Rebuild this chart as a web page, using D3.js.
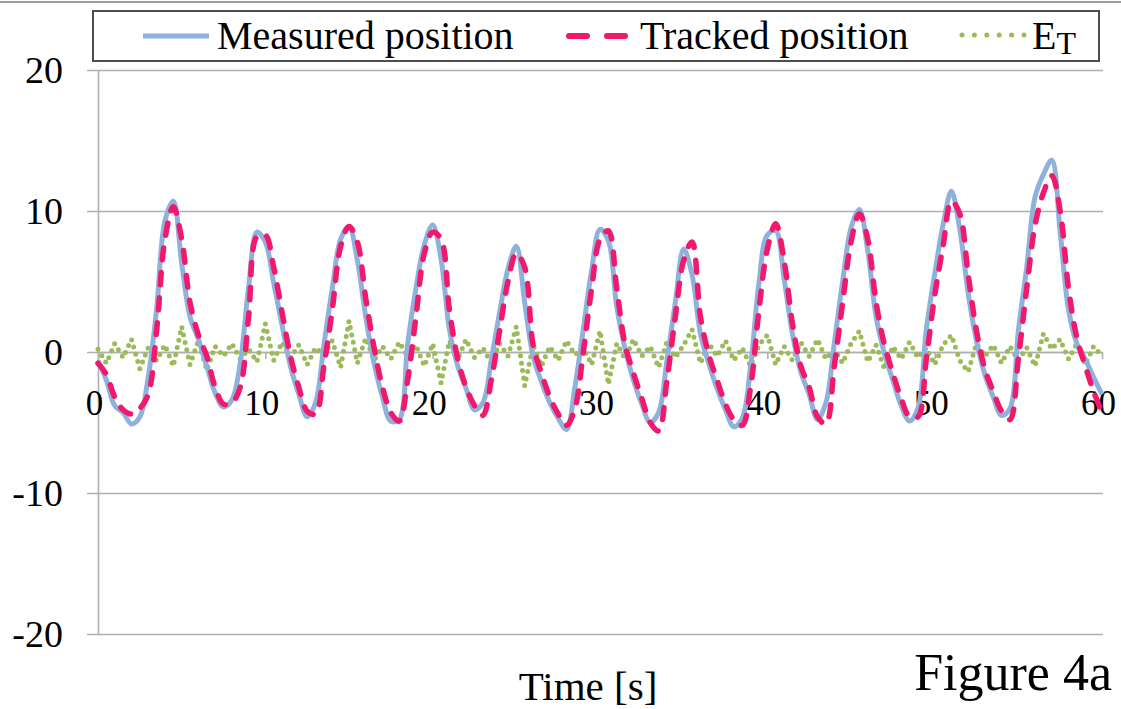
<!DOCTYPE html>
<html>
<head>
<meta charset="utf-8">
<script src="https://cdn.jsdelivr.net/npm/d3@7"></script>
<style>
  body { margin: 0; background: #fff; }
  svg { display: block; font-family: "Liberation Serif", "Times New Roman", serif; }
</style>
</head>
<body>
<div id="chart"></div>
<script>
(function () {
  const width = 1121;
  const height = 709;

  // time samples [s]
  const times = [0, 0.5, 1, 1.5, 2, 2.5, 3, 3.5, 4, 4.5, 5, 5.5, 6, 6.5, 7, 7.5, 8, 8.5, 9, 9.5,
    10, 10.5, 11, 11.5, 12, 12.5, 13, 13.5, 14, 14.5, 15, 15.5, 16, 16.5, 17, 17.5, 18, 18.5, 19, 19.5,
    20, 20.5, 21, 21.5, 22, 22.5, 23, 23.5, 24, 24.5, 25, 25.5, 26, 26.5, 27, 27.5, 28, 28.5, 29, 29.5,
    30, 30.5, 31, 31.5, 32, 32.5, 33, 33.5, 34, 34.5, 35, 35.5, 36, 36.5, 37, 37.5, 38, 38.5, 39, 39.5,
    40, 40.5, 41, 41.5, 42, 42.5, 43, 43.5, 44, 44.5, 45, 45.5, 46, 46.5, 47, 47.5, 48, 48.5, 49, 49.5,
    50, 50.5, 51, 51.5, 52, 52.5, 53, 53.5, 54, 54.5, 55, 55.5, 56, 56.5, 57, 57.5, 58, 58.5, 59, 59.5, 60];

  const measured = [-0.6, -2.0, -3.8, -4.3, -5.1, -4.6, -1.8, 3.0, 9.3, 10.7,
    6.3, 2.5, 0.9, -1.0, -2.9, -3.9, -3.4, -0.8, 4.6, 8.5,
    7.8, 4.9, 1.9, -1.0, -3.0, -4.6, -3.6, 0.5, 4.5, 8.0,
    8.9, 6.5, 2.5, -0.8, -3.2, -4.9, -4.8, 0.5, 4.5, 7.6,
    9.0, 6.6, 1.6, -1.0, -2.6, -4.1, -3.6, -0.6, 2.8, 5.9,
    7.5, 3.5, -0.3, -2.1, -3.6, -4.7, -5.5, -2.5, 1.6, 5.8,
    8.7, 7.9, 3.2, 0.2, -2.0, -3.7, -5.0, -4.3, -0.6, 3.5,
    7.3, 5.5, 1.3, -0.8, -2.6, -4.1, -5.3, -4.7, -1.0, 4.9,
    8.3, 8.6, 5.2, 1.3, -1.4, -3.0, -4.8, -3.6, 0.6, 5.0,
    8.8, 10.1, 7.2, 2.5, -0.1, -2.0, -3.8, -4.9, -4.0, 1.6,
    5.5, 9.0, 11.4, 8.7, 4.2, 0.8, -1.6, -3.2, -4.5, -4.0,
    1.5, 6.0, 11.0, 12.6, 13.6, 8.5, 3.0, 0.6, -0.5, -1.8, -3.0];

  const tracked = [-0.8, -1.6, -3.2, -4.1, -4.4, -4.0, -3.0, 1.5, 8.0, 10.3,
    8.0, 3.5, 1.2, -0.3, -2.5, -3.7, -3.6, -2.5, 2.5, 8.2,
    8.3, 6.0, 2.8, -0.3, -2.5, -4.2, -4.4, -1.0, 3.0, 7.5,
    8.9, 7.8, 3.8, 0.3, -2.5, -4.3, -4.9, -2.0, 2.5, 7.0,
    8.5, 8.0, 3.0, -0.5, -2.5, -3.8, -4.5, -2.0, 1.5, 5.0,
    7.0, 6.0, 0.5, -1.5, -3.2, -4.4, -5.2, -4.0, 0.0, 4.5,
    8.0, 8.6, 4.5, 0.5, -1.5, -3.3, -5.0, -5.6, -2.0, 2.5,
    6.5, 7.8, 2.5, -0.2, -2.0, -3.7, -4.8, -5.2, -2.5, 3.0,
    7.3, 9.1, 6.5, 2.0, -1.0, -2.5, -4.6, -5.1, -1.0, 3.5,
    7.8, 9.8, 8.0, 3.5, 0.5, -1.5, -3.3, -4.6, -4.6, -0.5,
    4.0, 7.5, 10.7, 9.8, 5.5, 1.5, -1.2, -2.8, -4.2, -4.8,
    -0.5, 4.5, 9.0, 11.3, 12.5, 10.0, 4.5, 1.0, -1.0, -2.8, -4.3];

  const errorT = [0.2, -0.8, 0.6, -0.4, 0.9, -1.2, 0.3, -0.6, 0.5, -1.0,
    1.8, -0.9, 0.8, -1.3, 0.4, -0.3, 0.6, -0.5, 0.2, -0.7,
    2.0, -0.6, 0.7, -0.4, 0.5, -0.9, 0.3, -0.2, 0.8, -1.1,
    2.2, -0.8, 1.0, -0.6, 0.4, -0.5, 0.7, -0.3, 0.5, -1.0,
    0.6, -2.2, 0.8, -0.5, 0.9, -0.4, 0.3, -0.8, 0.6, -0.3,
    1.8, -2.4, 0.5, -1.0, 0.4, -0.6, 0.8, -0.2, 0.3, -0.9,
    1.5, -2.3, 0.6, -0.5, 0.9, -0.3, 0.4, -1.1, 0.7, -0.4,
    0.5, 1.6, -0.8, 0.6, -0.3, 0.8, -0.6, 0.3, -1.0, 0.5,
    1.2, -0.9, 0.4, -0.6, 0.7, -0.3, 0.9, -0.5, 0.2, -0.8,
    0.6, 1.5, -0.7, 0.5, -1.2, 0.4, -0.5, 0.7, -0.4, 0.3,
    -0.9, 0.5, 1.2, -0.6, -1.4, 0.6, -0.3, 0.5, -0.8, 0.4,
    -0.6, 0.3, -1.0, 1.3, 0.2, 0.9, -0.5, 0.6, -0.9, 0.4, -0.3];

  const xTicks = [0, 10, 20, 30, 40, 50, 60];
  const yTicks = [-20, -10, 0, 10, 20];
  const seriesNames = ["Measured position", "Tracked position", "E"];

  const FONT = '"Liberation Serif", "Times New Roman", serif';
  const BLUE = "#8fb2dc";
  const PINK = "#f2186b";
  const GREEN = "#9bbb59";
  const GRID = "#b0b0b0";

  const svg = d3.select("#chart").append("svg")
    .attr("width", width)
    .attr("height", height);

  svg.append("rect").attr("width", width).attr("height", height).attr("fill", "#fff");

  // thin page rule at the top
  svg.append("line")
    .attr("x1", 0).attr("x2", width).attr("y1", 2).attr("y2", 2)
    .attr("stroke", "#9a9a9a").attr("stroke-width", 2);

  const x = d3.scaleLinear().domain([0, 60]).range([98, 1102]);
  const y = d3.scaleLinear().domain([-20, 20]).range([634, 70]);

  // horizontal gridlines (start a bit left of the axis, like tick marks)
  const gridG = svg.append("g")
    .attr("transform", "translate(87,0)")
    .call(d3.axisRight(y).tickValues(yTicks).tickSize(1103 - 87).tickFormat(""));
  gridG.select(".domain").remove();
  gridG.selectAll(".tick line").attr("stroke", GRID).attr("stroke-width", 1.6);

  // y axis
  const yAxisG = svg.append("g")
    .attr("transform", "translate(98,0)")
    .call(d3.axisLeft(y).tickValues(yTicks).tickSize(0).tickPadding(35).tickFormat(d => String(d)));
  yAxisG.attr("font-family", FONT);
  yAxisG.select(".domain").attr("stroke", GRID).attr("stroke-width", 1.6);
  yAxisG.selectAll(".tick text")
    .attr("fill", "#000")
    .style("font-size", "38px")
    .attr("dy", "0.34em");

  // x axis crosses at y = 0
  const xAxisG = svg.append("g")
    .attr("transform", `translate(0,${y(0)})`)
    .call(d3.axisBottom(x).tickValues(xTicks).tickSize(7).tickSizeOuter(0).tickFormat(d => String(d)));
  xAxisG.attr("font-family", FONT);
  xAxisG.select(".domain").attr("stroke", GRID).attr("stroke-width", 1.6);
  xAxisG.selectAll(".tick line").attr("stroke", GRID).attr("stroke-width", 1.6);
  xAxisG.selectAll(".tick text")
    .attr("fill", "#000")
    .style("font-size", "35px")
    .attr("x", -4)
    .attr("y", 63)
    .attr("dy", 0);

  const pts = k => times.map((t, i) => [t, k[i]]);

  const line = d3.line()
    .x(d => x(d[0]))
    .y(d => y(d[1]))
    .curve(d3.curveCatmullRom.alpha(0.5));

  const lineLinear = d3.line()
    .x(d => x(d[0]))
    .y(d => y(d[1]));

  // E_T as round dots along the noisy line
  svg.append("path")
    .attr("d", lineLinear(pts(errorT)))
    .attr("fill", "none")
    .attr("stroke", GREEN)
    .attr("stroke-width", 5)
    .attr("stroke-linecap", "round")
    .attr("stroke-dasharray", "0,7.5");

  svg.append("path")
    .attr("d", line(pts(measured)))
    .attr("fill", "none")
    .attr("stroke", BLUE)
    .attr("stroke-width", 5)
    .attr("stroke-linejoin", "round");

  svg.append("path")
    .attr("d", line(pts(tracked)))
    .attr("fill", "none")
    .attr("stroke", PINK)
    .attr("stroke-width", 5.5)
    .attr("stroke-linecap", "round")
    .attr("stroke-dasharray", "12,13");

  // legend
  const leg = svg.append("g");
  leg.append("rect")
    .attr("x", 93).attr("y", 11).attr("width", 1006).attr("height", 50)
    .attr("fill", "#fff").attr("stroke", "#4d4d4d").attr("stroke-width", 2);

  leg.append("line")
    .attr("x1", 143).attr("x2", 209).attr("y1", 36).attr("y2", 36)
    .attr("stroke", BLUE).attr("stroke-width", 5);
  leg.append("text")
    .attr("x", 217).attr("y", 49)
    .style("font-size", "40px")
    .text(seriesNames[0]);

  leg.append("line")
    .attr("x1", 569).attr("x2", 630).attr("y1", 36).attr("y2", 36)
    .attr("stroke", PINK).attr("stroke-width", 6)
    .attr("stroke-linecap", "round")
    .attr("stroke-dasharray", "18,20");
  leg.append("text")
    .attr("x", 640).attr("y", 49)
    .style("font-size", "40px")
    .text(seriesNames[1]);

  leg.append("line")
    .attr("x1", 962).attr("x2", 1025).attr("y1", 35).attr("y2", 35)
    .attr("stroke", GREEN).attr("stroke-width", 5)
    .attr("stroke-linecap", "round")
    .attr("stroke-dasharray", "0,12.4");
  const et = leg.append("text")
    .attr("x", 1032).attr("y", 49)
    .style("font-size", "40px")
    .text(seriesNames[2]);
  et.append("tspan")
    .attr("dy", 5)
    .style("font-size", "32px")
    .text("T");

  // axis title
  svg.append("text")
    .attr("x", 588).attr("y", 700)
    .attr("text-anchor", "middle")
    .style("font-size", "41px")
    .text("Time [s]");

  svg.append("text")
    .attr("x", 1112).attr("y", 690)
    .attr("text-anchor", "end")
    .style("font-size", "52px")
    .text("Figure 4a");
})();
</script>
</body>
</html>
